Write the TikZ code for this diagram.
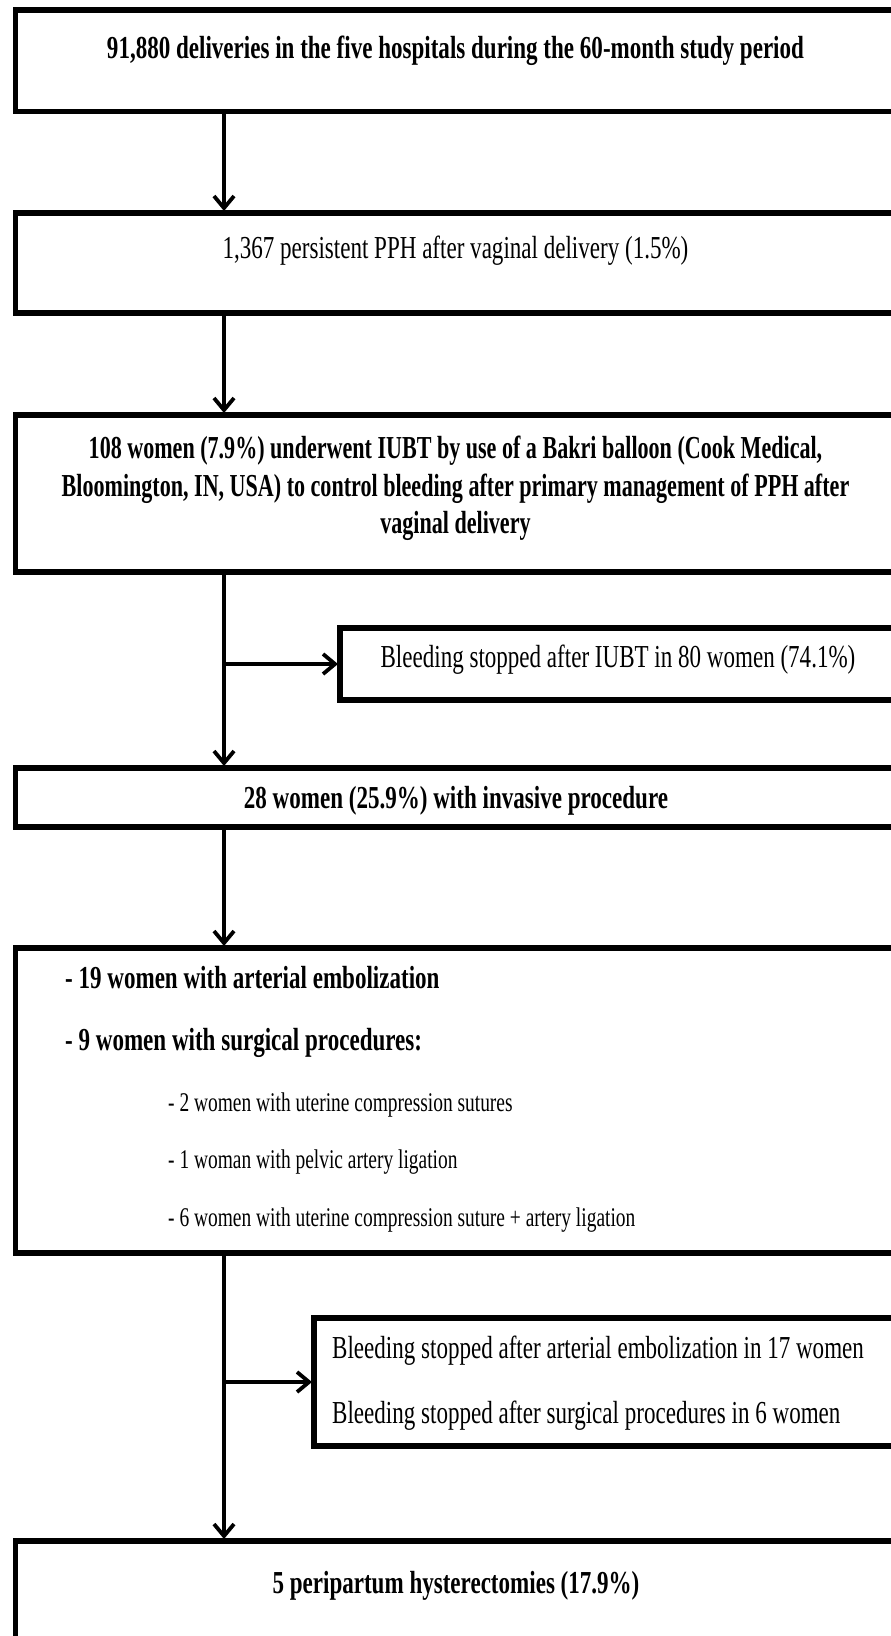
\documentclass[tikz,border=0pt]{standalone}
\usepackage{fontspec}
\setmainfont{Liberation Serif}[FakeStretch=0.72]
\newfontfamily\narrowserif{Liberation Serif}[FakeStretch=0.69]
\usetikzlibrary{arrows.meta}
\begin{document}
\begin{tikzpicture}[x=1pt,y=-1pt,
  box/.style={draw=black,line width=5.5pt,fill=white,rectangle,anchor=north west,inner sep=0pt,outer sep=0pt},
  conn/.style={line width=3.8pt,line join=miter,shorten >=2pt,-{Straight Barb[length=12pt,width=20pt]}},
  txt/.style={inner sep=0pt,anchor=base,font=\fontsize{32}{37.5}\selectfont},
  txtb/.style={inner sep=0pt,anchor=base,font=\fontsize{32}{37.5}\selectfont\bfseries},
  txtn/.style={inner sep=0pt,anchor=base,font=\fontsize{32}{37.5}\narrowserif\bfseries},
  txts/.style={inner sep=0pt,anchor=base west,font=\fontsize{27}{32}\selectfont}]
\useasboundingbox (0,0) rectangle (891,1636);
\clip (0,0) rectangle (891,1636);
\fill[white] (0,0) rectangle (891,1636);

% boxes
\node[box,minimum width=879.5pt,minimum height=101.5pt] (b1) at (15.5,10) {};
\node[box,minimum width=879.5pt,minimum height=100pt] (b2) at (15.5,213) {};
\node[box,minimum width=879.5pt,minimum height=157pt] (b3) at (15.5,415) {};
\node[box,minimum width=556pt,minimum height=72pt] (s1) at (340,628) {};
\node[box,minimum width=879.5pt,minimum height=59pt] (b4) at (15.5,768) {};
\node[box,minimum width=879.5pt,minimum height=305pt] (b5) at (15.5,948) {};
\node[box,minimum width=582pt,minimum height=128pt] (s2) at (314,1318) {};
\node[box,minimum width=879.5pt,minimum height=200pt] (b6) at (15.5,1541) {};

% spine
\coordinate (sp) at (224,0);

% connectors
\draw[conn] (b1.south -| sp) -- (b2.north -| sp);
\draw[conn] (b2.south -| sp) -- (b3.north -| sp);
\draw[conn] (b3.south -| sp) -- (b4.north -| sp);
\draw[conn] (sp |- s1.west) -- (s1.west);
\draw[conn] (b4.south -| sp) -- (b5.north -| sp);
\draw[conn] (b5.south -| sp) -- (b6.north -| sp);
\draw[conn] (sp |- s2.west) -- (s2.west);

% texts
\node[txtb] (t1) at (455.5,58) {91,880 deliveries in the five hospitals during the 60-month study period};
\node[txt] (t2) at (455.5,258) {1,367 persistent PPH after vaginal delivery (1.5\%)};
\node[txtn] (t3a) at (455.5,458) {108 women (7.9\%) underwent IUBT by use of a Bakri balloon (Cook Medical,};
\node[txtn] (t3b) at (455.5,496) {Bloomington, IN, USA) to control bleeding after primary management of PPH after};
\node[txtn] (t3c) at (455.5,533) {vaginal delivery};
\node[txt] (ts1) at (618,667) {Bleeding stopped after IUBT in 80 women (74.1\%)};
\node[txtb] (t4) at (456,808) {28 women (25.9\%) with invasive procedure};
\node[txtb,anchor=base west] (t5a) at (65,988) {- 19 women with arterial embolization};
\node[txtb,anchor=base west] (t5b) at (65,1050) {- 9 women with surgical procedures:};
\node[txts] (t5c) at (168,1111) {- 2 women with uterine compression sutures};
\node[txts] (t5d) at (168,1168) {- 1 woman with pelvic artery ligation};
\node[txts] (t5e) at (168,1226) {- 6 women with uterine compression suture + artery ligation};
\node[txt,anchor=base west] (ts2a) at (332,1358) {Bleeding stopped after arterial embolization in 17 women};
\node[txt,anchor=base west] (ts2b) at (332,1423) {Bleeding stopped after surgical procedures in 6 women};
\node[txtb] (t6) at (456,1593) {5 peripartum hysterectomies (17.9\%)};
\end{tikzpicture}
\end{document}
